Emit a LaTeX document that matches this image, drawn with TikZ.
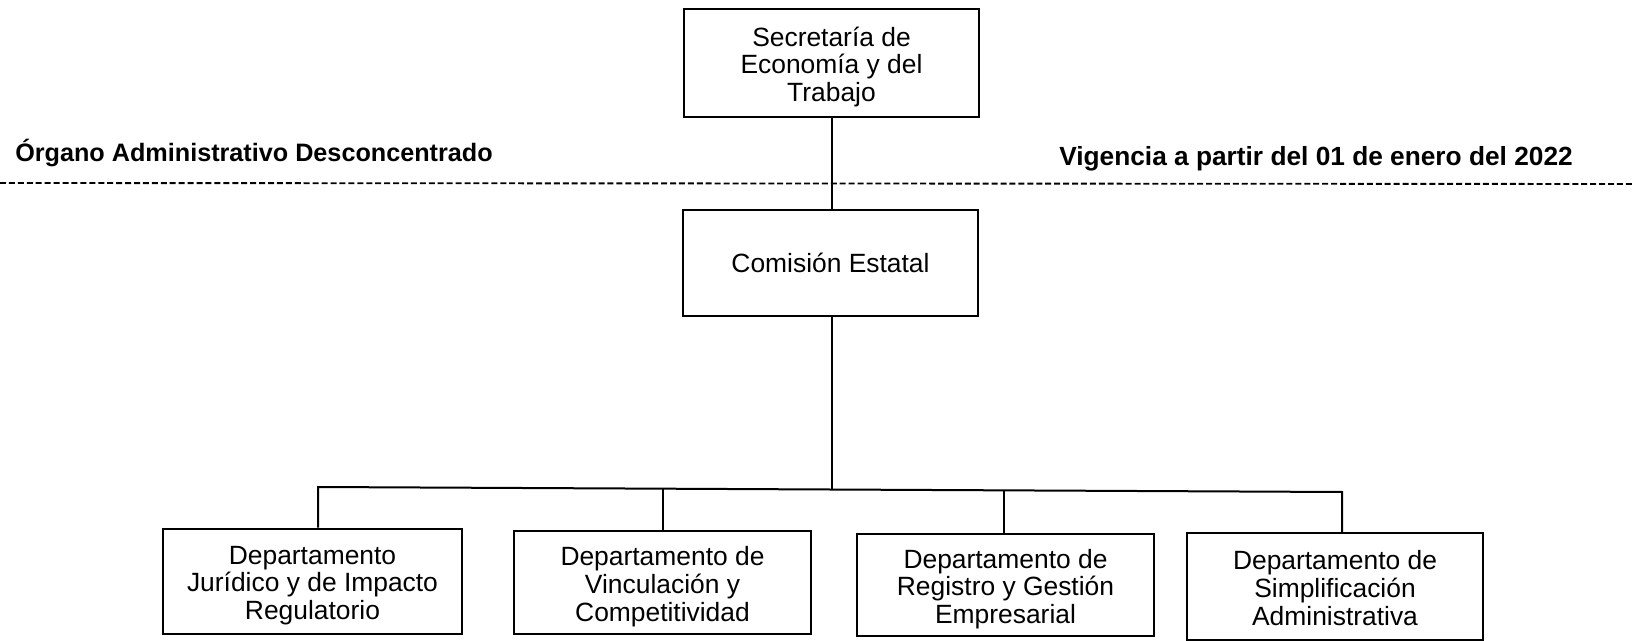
\documentclass[tikz,border=0pt]{standalone}
\usepackage{fontspec}
\setmainfont{Liberation Sans}
\newcommand{\toprule}{\rule{0pt}{20.6pt}}
\newcommand{\botrule}{\rule[-4pt]{0pt}{4pt}}
\begin{document}
\begin{tikzpicture}[x=0.75pt,y=-0.75pt,
  box/.style={draw, line width=1.5pt, align=center, inner sep=0pt,
    font=\fontsize{19.8}{20.7}\selectfont},
  sz/.style 2 args={minimum width=#1*0.75pt, minimum height=#2*0.75pt},
  head/.style={inner sep=0pt, font=\bfseries\fontsize{18.9}{20}\selectfont},
  link/.style={line width=1.5pt},
  sep/.style={line width=1.4pt, dash pattern=on 4.5pt off 2.2pt}]
\useasboundingbox[fill=white] (0,0) rectangle (1634,641);

\node[box, sz={295}{108}] (sec) at (831.5,63) {\toprule Secretaría de\\Economía y del\\Trabajo\botrule};
\node[box, sz={295}{106}] (com) at (830.5,263) {Comisión Estatal};

\node[box, sz={299}{105}] (d1) at (312.5,581) {\toprule Departamento\\Jurídico y de Impacto\\Regulatorio\botrule};
\node[box, sz={297}{103}] (d2) at (662.5,582.5) {\toprule Departamento de\\Vinculación y\\Competitividad\botrule};
\node[box, sz={297}{102}] (d3) at (1005.5,585) {\toprule Departamento de\\Registro y Gestión\\Empresarial\botrule};
\node[box, sz={296}{107}] (d4) at (1335,586.5) {\toprule Departamento de\\Simplificación\\Administrativa\botrule};

\node[head, anchor=base west] (org) at (15,162) {Órgano Administrativo Desconcentrado};
\node[head, anchor=base east, font=\bfseries\fontsize{19.7}{21}\selectfont] (vig) at (1573,166) {Vigencia a partir del 01 de enero del 2022};

\coordinate (sl) at (0,183);
\coordinate (sr) at (1634,184);
\draw[sep] (sl) -- (sr);

% bus (slightly tilted as in the scan)
\coordinate (bm) at (832,489.5);
\coordinate (b1) at (318,487);
\coordinate (b2) at (663,488.7);
\coordinate (b3) at (1004,490.3);
\coordinate (b4) at (1342,492);

\draw[link] (sec.south -| bm) -- (com.north -| bm);
\draw[link] (com.south -| bm) -- (bm);
\draw[link] (b1 |- d1.north) -- (b1) -- (b4) -- (b4 |- d4.north);
\draw[link] (b2 |- d2.north) -- (b2);
\draw[link] (b3 |- d3.north) -- (b3);
\end{tikzpicture}
\end{document}
